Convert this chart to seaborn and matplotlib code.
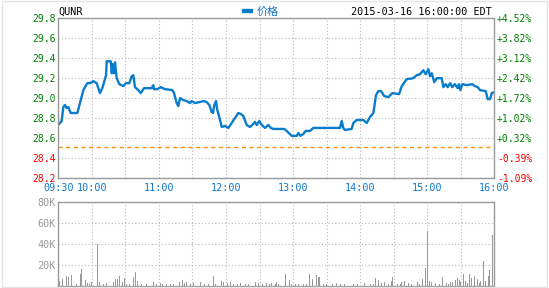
import numpy as np
import pandas as pd
import matplotlib
matplotlib.use("Agg")
import matplotlib.pyplot as plt
import seaborn as sns

# ---------------- data ----------------
symbol = "QUNR"
stamp = "2015-03-16 16:00:00 EDT"
legend_label = "价格"
prev_close = 28.51

# minutes after 09:30 and price
price_min = [0, 3, 4.5, 6, 7.5, 8.9, 11.1, 17, 19.4, 22.4, 25.9, 28.4, 31.3, 34.3, 37.3,
             39.7, 42.7, 43.3, 46.9, 47.8, 48.7, 49.8, 50.7, 52.2, 54.6, 58.1, 60.6, 63.5,
             65.7, 67.1, 68.6, 71.6, 73.7, 76.7, 83.5, 85.0, 85.6, 88.6, 91.6, 95.4, 102.0,
             103.5, 105.9, 107.3, 108.9, 111.8, 114.9, 117.8, 119.3, 122.3, 126.1, 130.3,
             132.7, 135.1, 137.2, 138.4, 139.5, 141.1, 142.2, 144.0, 146.2, 149.1, 152.1,
             155.1, 158.1, 161.0, 163.2, 165.5, 168.5, 171.5, 174.4, 175.9, 177.5, 179.8,
             181.9, 184.9, 187.8, 190.0, 192.3, 196.8, 202.2, 205.2, 208.8, 213.2, 214.7,
             216.5, 219.2, 221.3, 225.2, 228.1, 252.0, 253.5, 254.9, 256.4, 262.4, 263.9,
             266.9, 272.8, 275.9, 278.8, 281.8, 283.3, 284.2, 286.2, 288.7, 291.6, 295.2,
             298.8, 304.8, 307.2, 311.6, 317.5, 320.6, 323.5, 326.5, 328.6, 331.0, 332.5,
             334.0, 336.3, 338.5, 343.0, 344.4, 346.5, 348.3, 350.4, 352.4, 354.8, 357.2,
             358.4, 359.6, 361.4, 365.3, 370.3, 372.7, 375.2, 377.2, 382.3, 384.1, 386.2,
             387.7, 390]
price = [28.73, 28.77, 28.91, 28.93, 28.90, 28.91, 28.85, 28.85, 28.95, 29.08, 29.15, 29.15,
         29.17, 29.15, 29.05, 29.11, 29.23, 29.37, 29.37, 29.25, 29.34, 29.25, 29.36, 29.20,
         29.14, 29.12, 29.15, 29.15, 29.22, 29.23, 29.11, 29.08, 29.05, 29.10, 29.10, 29.13,
         29.09, 29.09, 29.11, 29.09, 29.08, 29.05, 28.95, 28.92, 29.00, 28.98, 28.97, 28.95,
         28.97, 28.95, 28.96, 28.97, 28.96, 28.93, 28.86, 28.85, 28.93, 28.97, 28.88, 28.81,
         28.71, 28.72, 28.70, 28.75, 28.80, 28.85, 28.84, 28.82, 28.73, 28.71, 28.74, 28.76,
         28.73, 28.77, 28.73, 28.70, 28.73, 28.70, 28.69, 28.69, 28.69, 28.66, 28.62, 28.62,
         28.65, 28.62, 28.64, 28.67, 28.67, 28.70, 28.70, 28.77, 28.70, 28.68, 28.69, 28.75,
         28.78, 28.78, 28.75, 28.81, 28.85, 28.96, 29.03, 29.07, 29.07, 29.02, 29.01, 29.05,
         29.04, 29.12, 29.19, 29.20, 29.23, 29.24, 29.28, 29.24, 29.29, 29.22, 29.25, 29.16,
         29.20, 29.20, 29.11, 29.14, 29.11, 29.15, 29.11, 29.14, 29.10, 29.14, 29.08, 29.14,
         29.13, 29.14, 29.12, 29.11, 29.08, 29.07, 28.99, 28.99, 29.05, 29.06]

# volume (minutes after 09:30, thousands of shares)
vol_min = [1, 4, 7, 9, 12, 16, 20, 21, 24, 26, 28, 30, 35, 37, 40, 43, 49, 51, 53, 55, 57, 59,
           61, 64, 67, 69, 71, 74, 79, 85, 88, 91, 93, 97, 100, 103, 108, 111, 113, 115, 118,
           121, 127, 131, 134, 139, 141, 146, 148, 151, 154, 157, 160, 163, 167, 170, 176,
           179, 183, 186, 189, 191, 194, 195, 197, 203, 207, 209, 212, 215, 219, 222, 225,
           227, 231, 233, 234, 237, 240, 245, 249, 252, 256, 264, 268, 274, 279, 282, 284,
           286, 289, 292, 295, 298, 299, 303, 306, 307, 310, 313, 316, 321, 323, 326, 328,
           330, 332, 334, 337, 341, 344, 347, 349, 351, 353, 355, 357, 359, 360, 362, 364,
           366, 368, 370, 372, 375, 377, 378, 380, 382, 385, 386, 388]
vol_k = [4.8, 6.3, 8.9, 7.9, 10.2, 2, 11.1, 15.9, 5.4, 3, 1.5, 3.5, 39.7, 3.5, 2, 3, 3.8, 6, 6,
         9.2, 3.8, 7, 2, 1.5, 8.6, 13, 4.8, 2, 1.5, 3.5, 2, 3, 2, 1.5, 2, 1.5, 3.5, 5.4, 3, 3.8,
         2, 3, 3.8, 2, 1.5, 9.2, 2, 4.1, 3.5, 3, 3.8, 2, 2, 3, 2, 1.5, 3.8, 3, 2, 3, 2, 3, 1.5,
         3.8, 2, 11.1, 5.4, 2, 1.5, 2, 1.5, 2, 11.1, 6.3, 9.8, 8.3, 8.3, 1.5, 2, 1.5, 3, 2, 1.5,
         2, 1.5, 3, 2, 1.5, 7, 5.4, 3, 3.8, 2, 4.8, 7.9, 2, 2, 3.8, 4.8, 3, 2, 3.8, 2, 6, 16.5,
         52, 4.3, 3.8, 3, 1.5, 7.9, 3, 2, 3.8, 3.8, 5.4, 7.3, 5.4, 3.8, 11.1, 4.8, 3, 11.1,
         7.3, 9.2, 6.3, 3, 4.3, 23.5, 4.8, 8.9, 15, 48.2]

price_ticks = [28.2, 28.4, 28.6, 28.8, 29.0, 29.2, 29.4, 29.6, 29.8]
pct_labels = ["-1.09%", "-0.39%", "+0.32%", "+1.02%", "+1.72%", "+2.42%", "+3.12%",
              "+3.82%", "+4.52%"]
time_ticks = [0, 30, 60, 90, 120, 150, 180, 210, 240, 270, 300, 330, 360, 390]
time_labels = ["09:30", "10:00", "", "11:00", "", "12:00", "", "13:00", "", "14:00", "",
               "15:00", "", "16:00"]
vol_ticks = [20000, 40000, 60000, 80000]
vol_labels = ["20K", "40K", "60K", "80K"]

# ---------------- style ----------------
sns.set_style("white")
plt.rcParams["font.family"] = ["DejaVu Sans Mono", "Noto Sans CJK SC"]

LINE = "#0a7ccc"
GREEN = "#008000"
RED = "#ff0000"
XBLUE = "#1177cc"
GRAY = "#999999"
GRID = "#b8b8b8"
FS = 7.0

fig = plt.figure(figsize=(5.49, 2.88), dpi=100)
fig.patches.append(plt.Rectangle((0.003, 0.003), 0.994, 0.994, transform=fig.transFigure,
                                 fill=False, edgecolor="#e4e4e4", linewidth=1))

ax1 = fig.add_axes([0.1062, 0.383, 0.7942, 0.5528])
ax2 = fig.add_axes([0.1062, 0.008, 0.7942, 0.2917])

# price line
df = pd.DataFrame({"t": price_min, "p": price})
sns.lineplot(data=df, x="t", y="p", ax=ax1, color=LINE, linewidth=1.7, estimator=None,
             sort=False)
ax1.axhline(prev_close, color="#ff8c1a", linestyle=(0, (3, 2.5)), linewidth=1.0)

ax1.set_xlim(0, 390)
ax1.set_ylim(28.2, 29.8)
ax1.set_xticks(time_ticks)
ax1.set_xticklabels(time_labels)
ax1.set_yticks(price_ticks)
ax1.set_yticklabels([f"{v:.1f}" for v in price_ticks])
ax1.set_xlabel("")
ax1.set_ylabel("")
ax1.tick_params(axis="both", length=0, labelsize=FS)
ax1.tick_params(axis="x", pad=4, colors=XBLUE, labelsize=FS + 0.3)
ax1.tick_params(axis="y", pad=2)
for v, lab in zip(price_ticks, ax1.get_yticklabels()):
    lab.set_color(GREEN if v >= prev_close else RED)
ax1.grid(True, color=GRID, linestyle=(0, (1, 2)), linewidth=0.8)
for s in ax1.spines.values():
    s.set_color(GRAY)
    s.set_linewidth(1)

axr = ax1.twinx()
axr.set_ylim(28.2, 29.8)
axr.set_yticks(price_ticks)
axr.set_yticklabels(pct_labels)
axr.tick_params(axis="y", length=0, labelsize=FS, pad=2)
for lab in axr.get_yticklabels():
    lab.set_color(RED if lab.get_text().startswith("-") else GREEN)
for s in axr.spines.values():
    s.set_visible(False)

# volume bars
vdf = pd.DataFrame({"t": vol_min, "v": [k * 1000 for k in vol_k]})
sns.histplot(data=vdf, x="t", weights="v", binwidth=1, binrange=(-0.5, 390.5), shrink=0.9,
             color=GRAY, alpha=1, linewidth=0, ax=ax2)
ax2.set_xlim(0, 390)
ax2.set_ylim(0, 80000)
ax2.set_xticks(time_ticks)
ax2.set_xticklabels([])
ax2.set_yticks(vol_ticks)
ax2.set_yticklabels(vol_labels)
ax2.set_xlabel("")
ax2.set_ylabel("")
ax2.tick_params(axis="both", length=0, labelsize=FS + 0.3, colors=GRAY, pad=2)
ax2.grid(True, color=GRID, linestyle=(0, (1, 2)), linewidth=0.8)
for s in ax2.spines.values():
    s.set_color(GRAY)
    s.set_linewidth(1)

# header texts
fig.text(58 / 549, 1 - 12 / 288, symbol, ha="left", va="center", fontsize=FS + 0.3,
         color="black")
fig.text(492 / 549, 1 - 12 / 288, stamp, ha="right", va="center", fontsize=FS + 0.3,
         color="black")
fig.patches.append(plt.Rectangle((242 / 549, 1 - 12 / 288), 10 / 549, 3 / 288,
                                 transform=fig.transFigure, color=LINE))
fig.text(257 / 549, 1 - 12 / 288, legend_label, ha="left", va="center", fontsize=FS + 1,
         color=XBLUE, family=["Noto Sans CJK SC", "DejaVu Sans"])

fig.savefig("out.png", dpi=100)
